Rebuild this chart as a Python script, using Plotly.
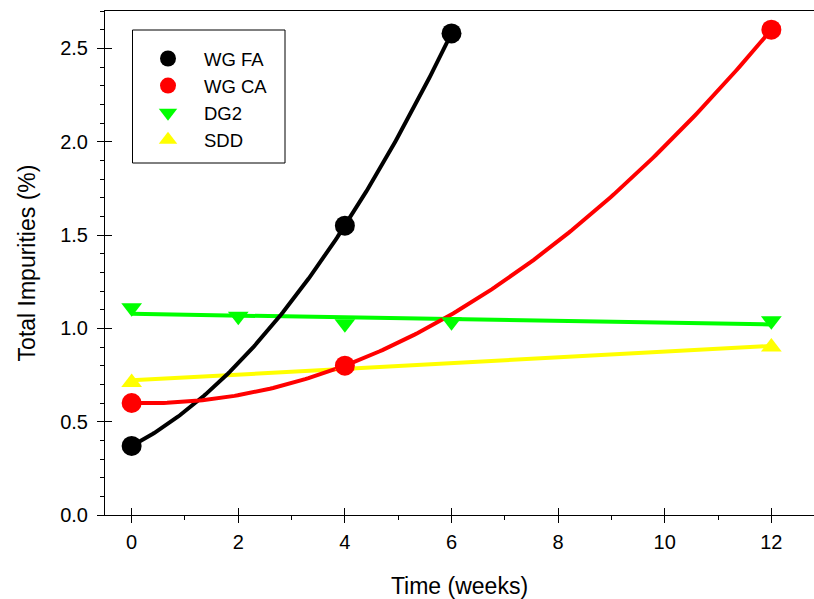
import numpy as np
import plotly.graph_objects as go

# Data
fa_x = [0, 4, 6]
fa_y = [0.37, 1.55, 2.58]
ca_x = [0, 4, 12]
ca_y = [0.60, 0.80, 2.60]
dg2_x = [0, 2, 4, 6, 12]
dg2_y = [1.11, 1.065, 1.025, 1.035, 1.04]
sdd_x = [0, 4, 12]
sdd_y = [0.71, 0.80, 0.90]

x_ticks = [0, 2, 4, 6, 8, 10, 12]
y_ticks = [0, 0.5, 1.0, 1.5, 2.0, 2.5]
y_ticktext = ["0.0", "0.5", "1.0", "1.5", "2.0", "2.5"]

FONT = "Liberation Sans, Arial, sans-serif"
W, H = 814, 599
ML, MR, MT, MB = 105, 0, 11, 84
PW, PH = W - ML - MR, H - MT - MB

def px_x(p):
    return (p - ML) / PW

def px_y(p):
    return (H - MB - p) / PH

fig = go.Figure()

def fit_curve(xs, ys, deg):
    c = np.polyfit(xs, ys, deg)
    xx = np.linspace(min(xs), max(xs), 200)
    return xx, np.polyval(c, xx)

series = [
    ("DG2", dg2_x, dg2_y, 1, "#00FF00", "triangle-down"),
    ("SDD", sdd_x, sdd_y, 1, "#FFFF00", "triangle-up"),
    ("WG FA", fa_x, fa_y, 2, "#000000", "circle"),
    ("WG CA", ca_x, ca_y, 2, "#FF0000", "circle"),
]
rank = {"WG FA": 1, "WG CA": 2, "DG2": 3, "SDD": 4}

for name, xs, ys, deg, col, sym in series:
    xx, yy = fit_curve(xs, ys, deg)
    fig.add_trace(go.Scatter(x=xx, y=yy, mode="lines", line=dict(color=col, width=4),
                             showlegend=False, hoverinfo="skip"))
for name, xs, ys, deg, col, sym in series:
    size = 20 if sym == "circle" else 18
    fig.add_trace(go.Scatter(x=xs, y=ys, mode="markers", name=name,
                             marker=dict(color=col, size=size, symbol=sym, line=dict(width=0)),
                             legendrank=rank[name]))

# overlay axes to give major ticks that cross the axis line
fig.add_trace(go.Scatter(x=[None], y=[None], xaxis="x2", yaxis="y2", showlegend=False))

fig.update_layout(
    width=W, height=H,
    margin=dict(l=ML, r=MR, t=MT, b=MB),
    paper_bgcolor="white", plot_bgcolor="white",
    font=dict(family=FONT, color="black", size=20),
    xaxis=dict(range=[-0.5, 12.8], tickvals=x_ticks, ticks="outside",
               ticklen=7, tickwidth=1, tickcolor="black", showline=True, linecolor="black",
               linewidth=1, mirror=True, showgrid=False, zeroline=False,
               minor=dict(tickvals=[1, 3, 5, 7, 9, 11], ticks="outside", ticklen=4, tickcolor="black"),
               title=dict(text="Time (weeks)", font=dict(size=23), standoff=25),
               tickfont=dict(size=20), ticklabelstandoff=2),
    yaxis=dict(range=[0, 2.7], tickvals=y_ticks, ticktext=y_ticktext,
               ticks="outside", ticklen=7, tickwidth=1, tickcolor="black", showline=True,
               linecolor="black", linewidth=1, showgrid=False, zeroline=False,
               minor=dict(dtick=0.1, ticks="outside", ticklen=4, tickcolor="black"),
               title=dict(text="Total Impurities (%)", font=dict(size=23), standoff=18),
               tickfont=dict(size=20), ticklabelstandoff=5),
    xaxis2=dict(overlaying="x", range=[-0.5, 12.8], tickvals=x_ticks, ticks="inside",
                ticklen=7, tickcolor="black", showticklabels=False, showgrid=False, zeroline=False,
                showline=False, anchor="y2", side="bottom"),
    yaxis2=dict(overlaying="y", range=[0, 2.7], tickvals=y_ticks, ticks="inside",
                ticklen=7, tickcolor="black", showticklabels=False, showgrid=False, zeroline=False,
                showline=False, anchor="x2", side="left"),
    legend=dict(x=px_x(132), y=px_y(40), xanchor="left", yanchor="top",
                borderwidth=0, bgcolor="rgba(0,0,0,0)", font=dict(size=18.5), itemwidth=62),
    shapes=[dict(type="rect", xref="paper", yref="paper",
                 x0=px_x(132.5), x1=px_x(285), y0=px_y(163), y1=px_y(30),
                 line=dict(color="black", width=1), fillcolor="rgba(0,0,0,0)")],
)

fig.write_html("out.html")
